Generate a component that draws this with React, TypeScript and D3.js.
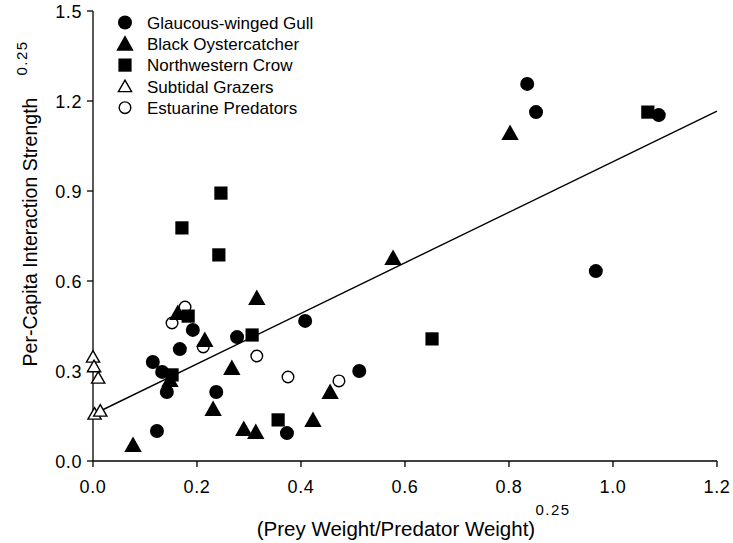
import React from "react";
import * as d3 from "d3";

const xTicks = [0, 0.2, 0.4, 0.6, 0.8, 1.0, 1.2];
const yTicks = [0, 0.3, 0.6, 0.9, 1.2, 1.5];

const gullX = [0.835, 0.852, 1.088, 0.967, 0.408, 0.512, 0.373, 0.192, 0.277, 0.167, 0.115, 0.133, 0.142, 0.237, 0.123];
const gullY = [1.257, 1.163, 1.153, 0.633, 0.467, 0.300, 0.093, 0.437, 0.413, 0.373, 0.330, 0.297, 0.230, 0.230, 0.100];

const oysterX = [0.802, 0.577, 0.315, 0.163, 0.215, 0.267, 0.148, 0.456, 0.423, 0.231, 0.290, 0.313, 0.077];
const oysterY = [1.093, 0.677, 0.543, 0.493, 0.403, 0.310, 0.270, 0.230, 0.137, 0.173, 0.107, 0.097, 0.053];

const crowX = [1.067, 0.246, 0.171, 0.242, 0.183, 0.306, 0.652, 0.152, 0.356];
const crowY = [1.163, 0.893, 0.777, 0.687, 0.483, 0.420, 0.407, 0.287, 0.137];

const grazerX = [0.0, 0.002, 0.01, 0.003, 0.014];
const grazerY = [0.347, 0.315, 0.277, 0.157, 0.167];

const estX = [0.177, 0.152, 0.212, 0.315, 0.375, 0.473];
const estY = [0.513, 0.460, 0.380, 0.350, 0.280, 0.267];

const fitIntercept = 0.155;
const fitSlope = 0.843;
const fitRange = [0, 1.2];

const legendLabels = [
  "Glaucous-winged Gull",
  "Black Oystercatcher",
  "Northwestern Crow",
  "Subtidal Grazers",
  "Estuarine Predators",
];

const FONT = "Arial, 'Liberation Sans', sans-serif";

type Kind = "circle" | "triangle" | "square" | "otriangle" | "ocircle";

function Marker({ kind, cx, cy }: { kind: Kind; cx: number; cy: number }) {
  if (kind === "circle") return <circle cx={cx} cy={cy} r={7} fill="#000" />;
  if (kind === "ocircle")
    return <circle cx={cx} cy={cy} r={5.8} fill="#fff" stroke="#000" strokeWidth={1.4} />;
  if (kind === "square")
    return <rect x={cx - 6.6} y={cy - 6.6} width={13.2} height={13.2} fill="#000" />;
  if (kind === "triangle") {
    const w = 8.7, h = 15.5;
    return <path d={`M${cx},${cy - h * 0.55}L${cx + w},${cy + h * 0.45}L${cx - w},${cy + h * 0.45}Z`} fill="#000" />;
  }
  const w = 6.6, h = 11.5;
  return (
    <path
      d={`M${cx},${cy - h * 0.55}L${cx + w},${cy + h * 0.45}L${cx - w},${cy + h * 0.45}Z`}
      fill="#fff"
      stroke="#000"
      strokeWidth={1.4}
    />
  );
}

export default function App() {
  const W = 733, H = 543;
  const x = d3.scaleLinear().domain([0, 1.2]).range([93, 717]);
  const y = d3.scaleLinear().domain([0, 1.5]).range([461, 11]);

  const series: { kind: Kind; xs: number[]; ys: number[] }[] = [
    { kind: "otriangle", xs: grazerX, ys: grazerY },
    { kind: "ocircle", xs: estX, ys: estY },
    { kind: "triangle", xs: oysterX, ys: oysterY },
    { kind: "square", xs: crowX, ys: crowY },
    { kind: "circle", xs: gullX, ys: gullY },
  ];
  const legendKinds: Kind[] = ["circle", "triangle", "square", "otriangle", "ocircle"];

  const line = d3
    .line<number>()
    .x((d) => x(d))
    .y((d) => y(fitIntercept + fitSlope * d));

  return (
    <svg
      width={W}
      height={H}
      style={{ position: "absolute", left: 0, top: 0, background: "#fff" }}
      fontFamily={FONT}
    >
      <rect width={W} height={H} fill="#fff" />
      <line x1={x(0)} x2={x(1.2)} y1={y(0)} y2={y(0)} stroke="#000" strokeWidth={1.3} />
      <line x1={x(0)} x2={x(0)} y1={y(0)} y2={y(1.5)} stroke="#000" strokeWidth={1.3} />
      {xTicks.map((t) => (
        <g key={"xt" + t}>
          <line x1={x(t)} x2={x(t)} y1={y(0)} y2={y(0) + 6} stroke="#000" strokeWidth={1.3} />
          <text x={x(t)} y={493} fontSize={18} letterSpacing={0.6} textAnchor="middle" fill="#000">
            {t.toFixed(1)}
          </text>
        </g>
      ))}
      {yTicks.map((t) => (
        <g key={"yt" + t}>
          <line x1={x(0) - 6} x2={x(0)} y1={y(t)} y2={y(t)} stroke="#000" strokeWidth={1.3} />
          <text x={82} y={y(t) + 6.5} fontSize={18} letterSpacing={0.6} textAnchor="end" fill="#000">
            {t.toFixed(1)}
          </text>
        </g>
      ))}
      <text x={396} y={536} fontSize={20.5} textAnchor="middle" fill="#000">
        (Prey Weight/Predator Weight)
      </text>
      <text x={553} y={515} fontSize={15} letterSpacing={1.5} textAnchor="middle" fill="#000">
        0.25
      </text>
      <text
        transform={`translate(37,232) rotate(-90)`}
        fontSize={19.5}
        textAnchor="middle"
        fill="#000"
      >
        Per-Capita Interaction Strength
      </text>
      <text transform={`translate(27,58) rotate(-90)`} fontSize={15} letterSpacing={1.5} textAnchor="middle" fill="#000">
        0.25
      </text>
      <path d={line(fitRange) || ""} fill="none" stroke="#000" strokeWidth={1.4} />
      {series.map((s) =>
        s.xs.map((v, i) => <Marker key={s.kind + i} kind={s.kind} cx={x(v)} cy={y(s.ys[i])} />)
      )}
      {legendLabels.map((lab, i) => {
        const cy = 22.5 + i * 21.3;
        return (
          <g key={lab}>
            <Marker kind={legendKinds[i]} cx={125} cy={cy} />
            <text x={147} y={cy + 6.2} fontSize={17} fill="#000">
              {lab}
            </text>
          </g>
        );
      })}
    </svg>
  );
}
